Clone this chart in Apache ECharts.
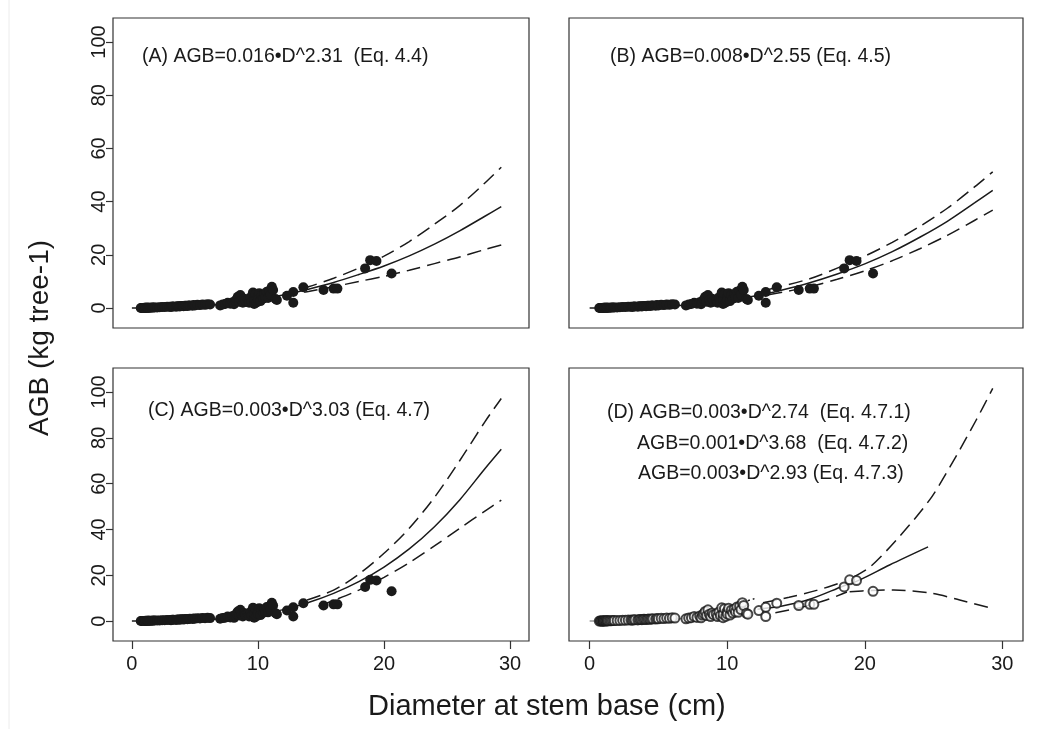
<!DOCTYPE html>
<html><head><meta charset="utf-8">
<script src="https://cdn.jsdelivr.net/npm/echarts@6/dist/echarts.min.js"></script>
<style>html,body{margin:0;padding:0;background:#fff}#c{width:1046px;height:729px}</style>
</head><body><div id="c"></div>
<script>
// ---- data ----
const xTicks = [0, 10, 20, 30];
const yTicks = [0, 20, 40, 60, 80, 100];
const xTitle = 'Diameter at stem base (cm)';
const yTitle = 'AGB (kg tree-1)';
const labelA = '(A) AGB=0.016\u2022D^2.31  (Eq. 4.4)';
const labelB = '(B) AGB=0.008\u2022D^2.55 (Eq. 4.5)';
const labelC = '(C) AGB=0.003\u2022D^3.03 (Eq. 4.7)';
const labelD = ['(D) AGB=0.003\u2022D^2.74  (Eq. 4.7.1)', 'AGB=0.001\u2022D^3.68  (Eq. 4.7.2)', 'AGB=0.003\u2022D^2.93 (Eq. 4.7.3)'];

// observed trees: diameter (cm) and AGB (kg)
const diam = [0.7,0.8,0.8,0.9,0.9,1.0,1.0,1.0,1.1,1.1,1.2,1.2,1.3,1.3,1.4,1.5,1.6,1.7,1.8,2.0,2.2,2.4,2.6,2.8,3.0,3.1,3.2,3.3,3.5,3.6,3.7,3.8,3.9,4.0,4.1,4.2,4.3,4.4,4.5,4.6,4.8,4.9,5.0,5.2,5.4,5.6,5.8,6.0,6.2,
  7.0,7.2,7.4,7.6,7.8,8.0,8.1,8.2,8.3,8.4,8.5,8.6,8.7,8.8,8.9,9.0,9.2,9.3,9.4,9.5,9.6,9.7,9.7,9.8,9.9,10.0,10.0,10.1,10.2,10.3,10.4,10.5,10.6,10.7,10.8,10.9,11.0,11.1,11.2,11.4,11.5,12.3,12.8,12.8,13.6,15.2,16.0,16.3,18.5,18.9,19.4,20.6];
const agb = [0.02,0.03,0.05,0.04,0.06,0.05,0.08,0.06,0.07,0.1,0.08,0.12,0.1,0.14,0.12,0.15,0.18,0.2,0.22,0.25,0.3,0.35,0.4,0.45,0.5,0.4,0.55,0.6,0.5,0.65,0.7,0.6,0.75,0.8,0.7,0.85,0.9,0.8,0.95,1.0,0.9,1.1,1.0,1.2,1.1,1.3,1.2,1.4,1.3,
  1.0,1.3,1.5,2.0,1.6,2.2,1.4,2.6,3.3,4.2,2.4,4.9,3.0,2.0,3.5,2.8,3.1,2.0,4.0,2.4,5.8,1.5,3.0,5.4,2.1,4.2,3.1,5.6,2.6,4.8,3.5,5.2,4.0,6.1,3.8,6.5,5.0,8.0,6.8,3.4,3.0,4.6,6.0,2.0,7.8,6.8,7.3,7.3,14.9,18.0,17.7,13.0];

// fitted curves
const fitA = [[0,0],[2,0.08],[4,0.4],[6,1.0],[8,1.9],[10,3.2],[12,4.9],[14,7.1],[16,9.6],[18,12.6],[20,15.8],[22,19.6],[24,24.0],[26,29.0],[28,34.5],[29.3,38.1]];
const upA = [[12,5.5],[14,8.0],[16,11.2],[18,15.0],[20,19.5],[22,25.0],[24,31.5],[26,38.5],[28,47.0],[29.3,52.9]];
const loA = [[12,4.5],[14,6.2],[16,8.0],[18,10.0],[20,11.9],[22,14.2],[24,16.7],[26,19.2],[28,22.0],[29.3,23.7]];

const fitB = [[0,0],[2,0.05],[4,0.27],[6,0.78],[8,1.6],[10,2.8],[12,4.5],[14,6.8],[16,9.5],[18,12.8],[20,16.6],[22,21.2],[24,26.6],[26,32.6],[28,39.6],[29.3,44.2]];
const upB = [[13,7.0],[16,11.0],[18,15.0],[20,19.5],[22,24.7],[24,30.7],[26,37.5],[28,45.6],[29.3,51.2]];
const loB = [[13,5.0],[16,8.0],[18,10.8],[20,14.0],[22,17.8],[24,22.3],[26,27.3],[28,33.0],[29.3,36.8]];

const fitC = [[0,0],[2,0.02],[4,0.18],[6,0.62],[8,1.5],[10,2.9],[12,5.0],[14,8.1],[16,12.1],[18,17.2],[20,23.6],[22,31.5],[24,41.2],[26,52.9],[28,66.5],[29.3,75.0]];
const upC = [[13.9,9.2],[16,13.5],[18,20.5],[20,29.6],[22,40.5],[24,54.0],[26,70.0],[28,87.0],[29.3,97.2]];
const loC = [[14.8,6.5],[16,9.0],[18,13.5],[20,19.1],[22,25.5],[24,32.8],[26,40.5],[28,48.0],[29.3,52.8]];

const fitD1 = [[0,0],[2,0.05],[4,0.3],[6,0.8],[8,1.7],[10,3.1],[11,4.0]];
const dotD1 = [[10.8,7.6],[12.2,10.2]];
const fitD = [[12.2,5.2],[14,6.6],[16,9.5],[18.4,15.2],[19.6,17.9],[21.8,24.5],[24.6,32.4]];
const upD2 = [[12.6,8.0],[14.5,10.4],[16.5,13.4],[18.4,17.0]];
const loD2 = [[13.5,3.6],[15.5,6.2],[17.2,9.2],[18.7,12.7]];
const upD3 = [[19.2,19.3],[20.4,23.7],[22.5,36.8],[24.7,52.8],[26.2,67.4],[28.1,87.8],[29.3,101.6]];
const loD3 = [[18.9,12.8],[20.5,13.4],[22.1,13.6],[24.9,12.1],[26.9,9.2],[29.3,5.5]];

// ---- chart ----
const pts = diam.map((d, i) => [d, agb[i]]);
const INK = '#1a1a1a';
const FONT = 'Liberation Sans, Arial, sans-serif';
const grids = [
  {left: 113, top: 18, width: 416, height: 310},
  {left: 569, top: 18, width: 454, height: 310},
  {left: 113, top: 368, width: 416, height: 273},
  {left: 569, top: 368, width: 454, height: 273}
].map(g => Object.assign(g, {show: true, borderColor: '#333', borderWidth: 1.2, backgroundColor: 'transparent'}));

const xAxes = [0,1,2,3].map(i => ({
  type: 'value', gridIndex: i, min: -1.5, max: 31.5, position: 'bottom',
  splitLine: {show: false},
  axisLine: {show: false, onZero: false},
  axisTick: {show: i >= 2, length: 8, inside: false, customValues: xTicks, lineStyle: {color: '#333', width: 1.2}},
  axisLabel: {show: i >= 2, customValues: xTicks, margin: 13, fontSize: 20, color: INK, fontFamily: FONT}
}));
const yAxes = [0,1,2,3].map(i => ({
  type: 'value', gridIndex: i, position: 'left',
  min: i < 2 ? -7.5 : -8.7, max: i < 2 ? 109 : 110.5,
  splitLine: {show: false},
  axisLine: {show: false, onZero: false},
  axisTick: {show: i % 2 === 0, length: 7, customValues: yTicks, lineStyle: {color: '#333', width: 1.2}},
  axisLabel: {show: i % 2 === 0, customValues: yTicks, rotate: 90, margin: 4, fontSize: 20, color: INK, fontFamily: FONT}
}));

function line(i, data, type, color, width) {
  return {type: 'line', xAxisIndex: i, yAxisIndex: i, data: data, showSymbol: false, smooth: 0.3,
    silent: true, z: 3, lineStyle: {color: color || INK, width: width || 1.5, type: type}};
}
function scatter(i, open) {
  return {type: 'scatter', xAxisIndex: i, yAxisIndex: i, data: pts, symbol: open ? 'emptyCircle' : 'circle',
    symbolSize: open ? 9 : 10, silent: true, z: 4,
    itemStyle: open ? {color: INK, borderColor: INK, borderWidth: 1.3} : {color: INK, opacity: 1}};
}
const dash = [14, 7];
const series = [
  scatter(0), line(0, fitA, 'solid'), line(0, upA, dash), line(0, loA, dash),
  scatter(1), line(1, fitB, 'solid'), line(1, upB, dash), line(1, loB, dash),
  scatter(2), line(2, fitC, 'solid'), line(2, upC, dash), line(2, loC, dash),
  line(3, fitD1, 'solid', '#999'), line(3, dotD1, [2, 3]),
  line(3, fitD, 'solid'), line(3, upD2, dash), line(3, loD2, dash), line(3, upD3, dash), line(3, loD3, dash),
  scatter(3, true)
];

const txt = (x, y, s, size, extra) => ({type: 'text', left: x, top: y, z: 10, silent: true,
  style: Object.assign({text: s, font: size + 'px ' + FONT, fill: INK}, extra || {})});
const graphic = [
  {type: 'line', shape: {x1: 9, y1: 0, x2: 9, y2: 729}, style: {stroke: '#ececec', lineWidth: 1}, silent: true},
  txt(142, 47, labelA, 19.5),
  txt(610, 47, labelB, 19.5),
  txt(148, 401, labelC, 19.5),
  txt(607, 403, labelD[0], 19.5),
  txt(637, 434, labelD[1], 19.5),
  txt(638, 464, labelD[2], 19.5),
  txt(368, 692, xTitle, 29),
  {type: 'text', x: 40, y: 338, rotation: Math.PI / 2, z: 10, silent: true,
    style: {text: yTitle, font: '28px ' + FONT, fill: INK, align: 'center', verticalAlign: 'middle'}}
];

const chart = echarts.init(document.getElementById('c'), null, {renderer: 'canvas'});
chart.setOption({animation: false, grid: grids, xAxis: xAxes, yAxis: yAxes, series: series, graphic: graphic});
</script></body></html>
